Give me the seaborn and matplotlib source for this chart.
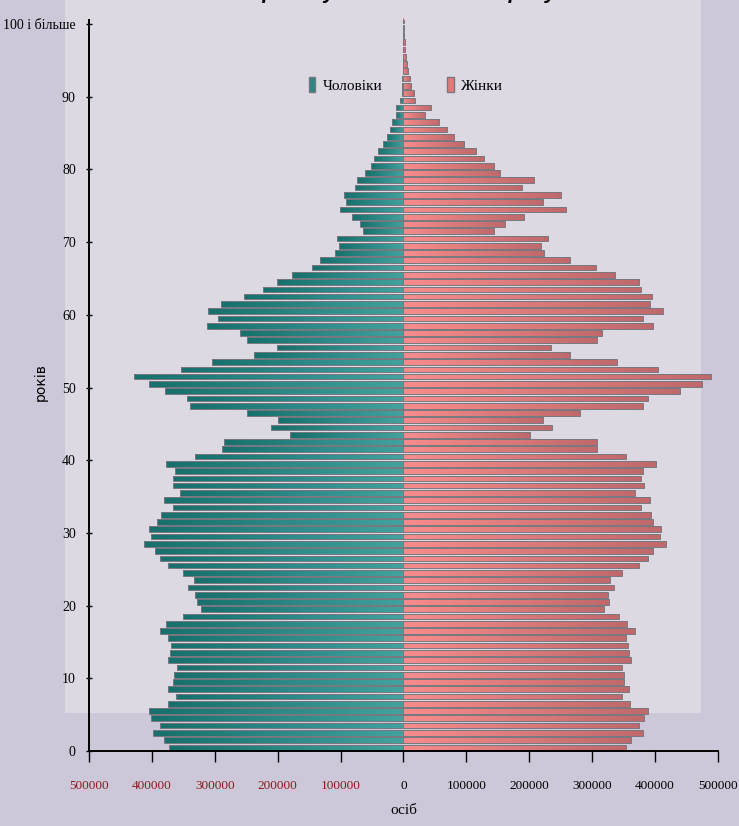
import numpy as np
import pandas as pd
import matplotlib
matplotlib.use("Agg")
import matplotlib.pyplot as plt
import seaborn as sns
from matplotlib.patches import Patch, Rectangle
from matplotlib.colors import LinearSegmentedColormap

# population by single year of age, 0 .. "100 і більше"
ages = list(range(0, 101))

men = [
    372000, 381000, 399000, 387000, 401000, 404000, 375000, 362000, 375000, 367000,
    365000, 360000, 375000, 371000, 369000, 374000, 387000, 378000, 350000, 322000,
    329000, 332000, 342000, 333000, 351000, 375000, 387000, 395000, 412000, 402000,
    404000, 392000, 385000, 367000, 380000, 355000, 367000, 366000, 364000, 378000,
    332000, 289000, 285000, 181000, 211000, 200000, 248000, 339000, 344000, 379000,
    405000, 429000, 353000, 304000, 238000, 201000, 248000, 260000, 313000, 295000,
    310000, 290000, 253000, 223000, 201000, 178000, 146000, 132000, 109000, 102000,
    105600, 65000, 69000, 82000, 101000, 92000, 94000, 77000, 74000, 60500,
    52000, 47000, 40000, 32000, 27000, 22000, 17500, 12000, 12000, 5500,
    3000, 2500, 2000, 1500, 1200, 900, 700, 500, 400, 300,
    300,
]

women = [
    353000, 361000, 380000, 374000, 382000, 388500, 360000, 348000, 358000, 351000,
    351000, 347000, 361000, 358000, 357000, 353000, 368000, 355000, 343000, 318000,
    326000, 325000, 335000, 328500, 348000, 373700, 388500, 397000, 417000, 407000,
    409000, 397000, 394000, 377000, 392000, 368000, 382000, 377000, 380000, 402000,
    353000, 307000, 308000, 201000, 236000, 221000, 280000, 380000, 388500, 439000,
    474000, 489000, 404000, 340000, 265000, 235000, 307000, 315000, 397000, 380000,
    413000, 392000, 395000, 378000, 373700, 336500, 306000, 265000, 224000, 218000,
    229000, 144000, 162000, 192000, 259000, 221000, 251000, 189000, 207500, 154000,
    144000, 128500, 115000, 96500, 80000, 68500, 57000, 34500, 43500, 18000,
    17000, 12500, 10000, 7000, 5000, 3500, 2500, 1800, 1200, 800,
    500,
]

x_ticks = [-500000, -400000, -300000, -200000, -100000, 0,
           100000, 200000, 300000, 400000, 500000]
y_ticks = [0, 10, 20, 30, 40, 50, 60, 70, 80, 90, 100]
y_tick_labels = ["0", "10", "20", "30", "40", "50", "60", "70", "80", "90", "100 і більше"]

serif = "Liberation Serif"

df = pd.concat([
    pd.DataFrame({"pos": np.array(ages) + 0.5, "value": -np.array(men), "sex": "Чоловіки"}),
    pd.DataFrame({"pos": np.array(ages) + 0.5, "value": np.array(women), "sex": "Жінки"}),
])

fig = plt.figure(figsize=(7.39, 8.26), dpi=100)
fig.patch.set_facecolor("#ccc7d9")
fig.add_artist(Rectangle((65 / 739, 113 / 826), 636 / 739, 713 / 826,
                         transform=fig.transFigure, facecolor="#dcd9e3",
                         edgecolor="none", zorder=-1))

ax = fig.add_axes([0.1204, 0.0908, 0.8512, 0.8845])
ax.set_facecolor("none")

sns.barplot(data=df, x="value", y="pos", hue="sex", orient="h", native_scale=True,
            dodge=False, width=0.78, errorbar=None, legend=False,
            palette={"Чоловіки": "#2a8884", "Жінки": "#e27a7a"}, ax=ax)

# gradient fill inside each bar
cmap_men = LinearSegmentedColormap.from_list("men", ["#17706c", "#42a29e"])
cmap_women = LinearSegmentedColormap.from_list("women", ["#f88c8c", "#c0696b"])
grad = np.linspace(0, 1, 64).reshape(1, -1)
for bar in list(ax.patches):
    bb = bar.get_bbox()
    x0, x1 = sorted([bb.x0, bb.x1])
    y0, y1 = sorted([bb.y0, bb.y1])
    cmap = cmap_men if x0 < 0 else cmap_women
    bar.set_facecolor("none")
    bar.set_edgecolor("#77777f")
    bar.set_linewidth(0.7)
    im = ax.imshow(grad, extent=(x0, x1, y0, y1), cmap=cmap, aspect="auto",
                   interpolation="bilinear", zorder=bar.get_zorder() - 0.1)
    im.set_clip_path(bar)

ax.set_xlim(-500000, 500000)
ax.set_ylim(0, 100.5)

for side in ["top", "right"]:
    ax.spines[side].set_visible(False)
for side in ["left", "bottom"]:
    ax.spines[side].set_color("black")
    ax.spines[side].set_linewidth(1.4)

ax.set_xticks(x_ticks)
ax.set_xticklabels([str(abs(v)) for v in x_ticks], fontfamily=serif, fontsize=9.5)
for lab, v in zip(ax.get_xticklabels(), x_ticks):
    lab.set_color("#8b1c1c" if v < 0 else "black")
ax.tick_params(axis="x", direction="out", length=8, width=1, pad=13)

ax.set_yticks(y_ticks)
ax.set_yticklabels(y_tick_labels, fontfamily=serif, fontsize=10)
ax.tick_params(axis="y", direction="inout", length=5, width=1, pad=7)

ax.set_xlabel("осіб", fontfamily=serif, fontsize=11)
ax.xaxis.set_label_coords(0.5, -0.072)
ax.set_ylabel("років", fontfamily="DejaVu Sans", fontsize=10)
ax.yaxis.set_label_coords(-0.066, 0.505)

handles = [Patch(facecolor="#2a8884", edgecolor="#77777f"),
           Patch(facecolor="#e27a7a", edgecolor="#77777f")]
fig.legend(handles, ["Чоловіки", "Жінки"], ncol=2, loc="center",
           bbox_to_anchor=(406 / 739, 1 - 85 / 826), frameon=False,
           handlelength=0.45, handleheight=1.1, handletextpad=0.5,
           columnspacing=4.2, prop={"family": serif, "size": 11})

# title is cut off by the top edge in the original, only its bottom shows
fig.text(397 / 739, 1 + 1 / 826, "перепису населення 1989 року",
         ha="center", va="baseline", fontsize=15, fontweight="bold",
         fontstyle="italic", fontfamily="Liberation Sans")

fig.savefig("out.png", dpi=100, facecolor=fig.get_facecolor())
